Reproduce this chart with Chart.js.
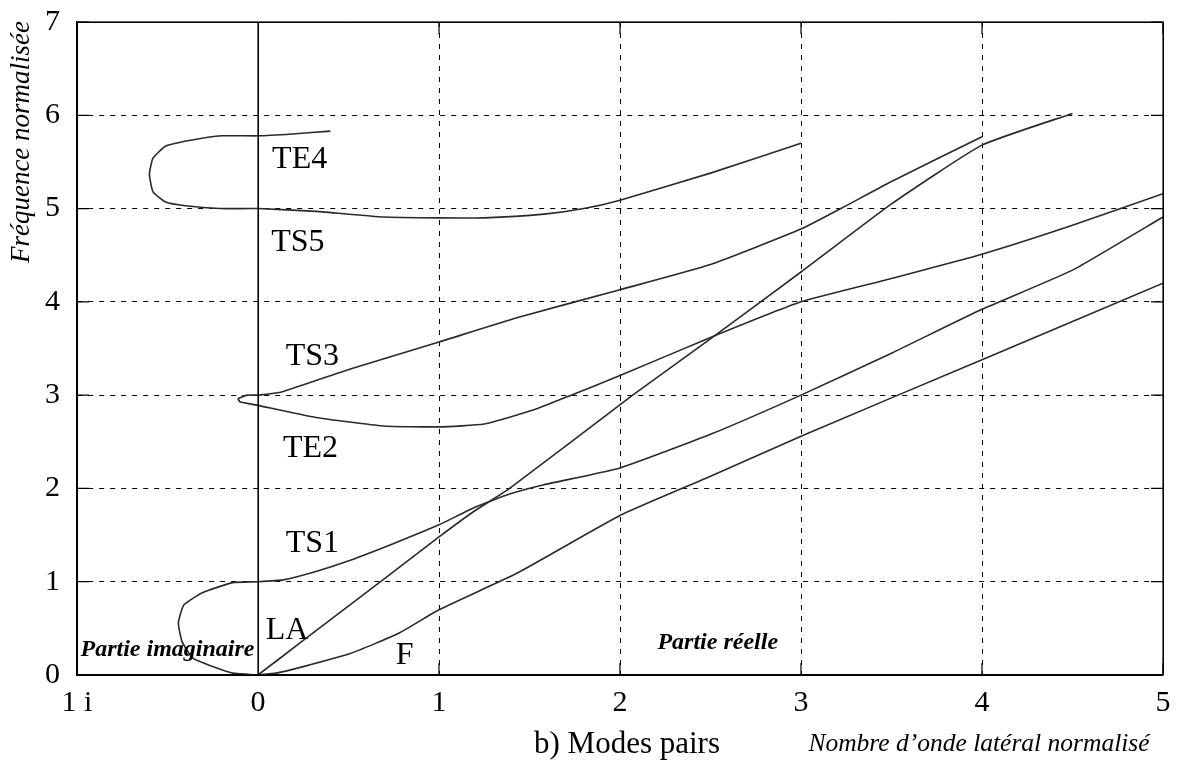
<!DOCTYPE html>
<html>
<head>
<meta charset="utf-8">
<script src="https://cdn.jsdelivr.net/npm/chart.js@4.4.0/dist/chart.umd.min.js"></script>
<style>
  html, body { margin: 0; padding: 0; background: #fff; }
</style>
</head>
<body>
<canvas id="chart" width="1181" height="765"></canvas>
<script>
// axis ticks
const xTickValues = [-1, 0, 1, 2, 3, 4, 5];
const xTickLabels = ['1 i', '0', '1', '2', '3', '4', '5'];
const yTickValues = [0, 1, 2, 3, 4, 5, 6, 7];

// TE4 / TS5 branch (negative x = imaginary part)
const te4ts5X = [0.40, 0.19, 0, -0.20, -0.38, -0.51, -0.58, -0.60, -0.58, -0.51, -0.40, -0.21, 0, 0.32, 0.69, 1.00, 1.25, 1.58, 1.80, 2.00, 2.50, 3.00];
const te4ts5Y = [5.83, 5.80, 5.78, 5.78, 5.73, 5.67, 5.54, 5.37, 5.18, 5.07, 5.03, 5.00, 5.00, 4.97, 4.91, 4.90, 4.90, 4.94, 5.00, 5.09, 5.38, 5.70];

// TS3 / TE2 branch
const ts3te2X = [4.00, 3.50, 3.22, 3.00, 2.50, 2.00, 1.43, 1.00, 0.51, 0.14, 0, -0.06, -0.11, -0.10, 0, 0.32, 0.69, 1.00, 1.25, 1.52, 1.73, 2.00, 2.49, 3.00, 3.50, 4.00, 4.50, 5.00];
const ts3te2Y = [5.77, 5.29, 5.00, 4.78, 4.40, 4.13, 3.83, 3.57, 3.28, 3.04, 3.00, 3.00, 2.96, 2.93, 2.89, 2.76, 2.67, 2.66, 2.69, 2.84, 3.00, 3.21, 3.61, 4.00, 4.25, 4.51, 4.82, 5.16];

// TS1 branch with its imaginary loop down to the origin
const ts1X = [5.00, 4.50, 4.00, 3.50, 3.00, 2.50, 2.00, 1.58, 1.39, 1.19, 1.00, 0.75, 0.51, 0.32, 0.14, 0, -0.14, -0.31, -0.41, -0.44, -0.42, -0.36, -0.25, -0.14, 0];
const ts1Y = [4.91, 4.34, 3.92, 3.45, 3.00, 2.58, 2.22, 2.04, 1.94, 1.79, 1.61, 1.41, 1.23, 1.11, 1.02, 1.00, 0.99, 0.88, 0.75, 0.56, 0.36, 0.18, 0.09, 0.02, 0];

// LA
const laX = [0, 0.25, 0.69, 1.00, 1.19, 1.39, 2.07, 2.49, 3.00, 3.50, 4.00, 4.50];
const laY = [0, 0.37, 1.02, 1.48, 1.75, 2.00, 3.00, 3.59, 4.32, 5.05, 5.68, 6.02];

// F
const fX = [0, 0.10, 0.25, 0.51, 0.78, 1.00, 1.43, 2.00, 2.50, 3.00, 4.00, 5.00];
const fY = [0, 0.02, 0.09, 0.23, 0.45, 0.70, 1.09, 1.71, 2.13, 2.56, 3.38, 4.20];

// curve labels: text and anchor in data units
const curveLabels = [
  { text: 'TE4', x: 0.23, y: 5.52 },
  { text: 'TS5', x: 0.22, y: 4.63 },
  { text: 'TS3', x: 0.30, y: 3.41 },
  { text: 'TE2', x: 0.29, y: 2.43 },
  { text: 'TS1', x: 0.30, y: 1.41 },
  { text: 'LA', x: 0.16, y: 0.48 },
  { text: 'F', x: 0.81, y: 0.21 }
];
const regionLabels = [
  { text: 'Partie imaginaire', x: -0.50, y: 0.27 },
  { text: 'Partie réelle', x: 2.54, y: 0.34 }
];

const toPoints = (xs, ys) => xs.map((x, i) => ({ x: x, y: ys[i] }));

const curve = (xs, ys) => ({
  data: toPoints(xs, ys),
  showLine: true,
  borderColor: '#2a2a2a',
  borderWidth: 1.6,
  pointRadius: 0,
  tension: 0.15,
  fill: false
});

// texts, inward ticks and the frame
const decorPlugin = {
  id: 'decor',
  afterDraw(chart) {
    const ctx = chart.ctx;
    const xs = chart.scales.x, ys = chart.scales.y;
    const a = chart.chartArea;
    ctx.save();

    // frame and inward ticks
    ctx.strokeStyle = '#000';
    ctx.lineWidth = 1.2;
    ctx.setLineDash([]);
    ctx.strokeRect(a.left, a.top, a.right - a.left, a.bottom - a.top);
    ctx.beginPath();
    yTickValues.forEach(v => {
      const py = ys.getPixelForValue(v);
      ctx.moveTo(a.left, py); ctx.lineTo(a.left + 12, py);
      ctx.moveTo(a.right, py); ctx.lineTo(a.right - 12, py);
    });
    xTickValues.forEach(v => {
      const px = xs.getPixelForValue(v);
      ctx.moveTo(px, a.bottom); ctx.lineTo(px, a.bottom - 12);
      ctx.moveTo(px, a.top); ctx.lineTo(px, a.top + 12);
    });
    // solid line between imaginary and real parts
    const x0 = xs.getPixelForValue(0);
    ctx.moveTo(x0, a.top); ctx.lineTo(x0, a.bottom);
    ctx.stroke();

    ctx.fillStyle = '#000';
    ctx.textAlign = 'center';
    ctx.textBaseline = 'middle';

    ctx.font = '32px "Liberation Serif"';
    curveLabels.forEach(l => {
      ctx.fillText(l.text, xs.getPixelForValue(l.x), ys.getPixelForValue(l.y));
    });

    ctx.font = 'italic bold 24px "Liberation Serif"';
    regionLabels.forEach(l => {
      ctx.fillText(l.text, xs.getPixelForValue(l.x), ys.getPixelForValue(l.y));
    });

    // axis titles
    ctx.font = '31px "Liberation Serif"';
    ctx.fillText('b) Modes pairs', 627, 745);
    ctx.font = 'italic 25.5px "Liberation Serif"';
    ctx.fillText('Nombre d\u2019onde lat\u00e9ral normalis\u00e9', 979, 744);

    ctx.font = 'italic 27px "Liberation Serif"';
    ctx.translate(22, 142);
    ctx.rotate(-Math.PI / 2);
    ctx.fillText('Fr\u00e9quence normalis\u00e9e', 0, 0);
    ctx.restore();
  }
};

const gridDash = (c, edges) => {
  if (!c.tick) return [];
  return edges.includes(c.tick.value) ? [] : [5, 6];
};

new Chart(document.getElementById('chart').getContext('2d'), {
  type: 'scatter',
  data: {
    datasets: [
      curve(te4ts5X, te4ts5Y),
      curve(ts3te2X, ts3te2Y),
      curve(ts1X, ts1Y),
      curve(laX, laY),
      curve(fX, fY)
    ]
  },
  options: {
    responsive: false,
    animation: false,
    layout: { padding: { top: 22, right: 18, left: 0, bottom: 0 } },
    plugins: {
      legend: { display: false },
      tooltip: { enabled: false }
    },
    scales: {
      x: {
        type: 'linear',
        min: -1,
        max: 5,
        afterBuildTicks: s => { s.ticks = xTickValues.map(v => ({ value: v })); },
        afterFit: s => { s.height = 90; s.paddingLeft = 0; s.paddingRight = 0; },
        ticks: {
          padding: 10,
          color: '#000',
          font: { family: 'Liberation Serif', size: 30 },
          maxRotation: 0,
          callback: (v) => xTickLabels[xTickValues.indexOf(v)]
        },
        grid: { color: '#000', lineWidth: 1, drawTicks: false },
        border: { display: true, color: '#000', width: 1.2, dash: c => gridDash(c, [-1, 0, 5]) }
      },
      y: {
        type: 'linear',
        min: 0,
        max: 7,
        afterBuildTicks: s => { s.ticks = yTickValues.map(v => ({ value: v })); },
        afterFit: s => { s.width = 77; s.paddingTop = 0; s.paddingBottom = 0; },
        ticks: {
          padding: 17,
          color: '#000',
          font: { family: 'Liberation Serif', size: 30 }
        },
        grid: { color: '#000', lineWidth: 1, drawTicks: false },
        border: { display: true, color: '#000', width: 1.2, dash: c => gridDash(c, [0, 7]) }
      }
    }
  },
  plugins: [decorPlugin]
});
</script>
</body>
</html>
